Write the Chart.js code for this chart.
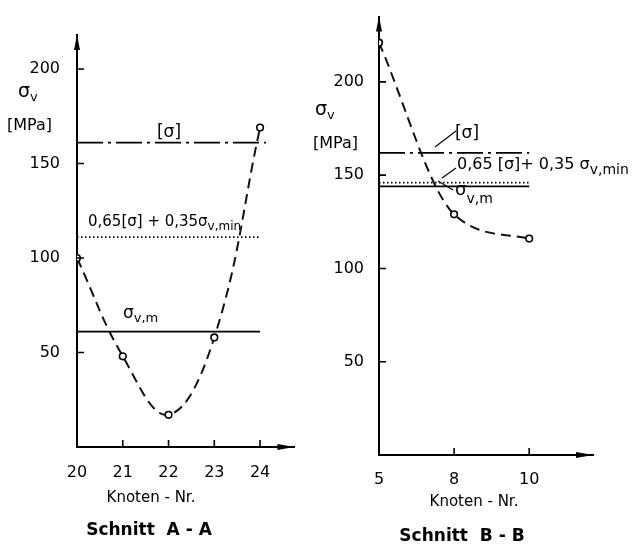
<!DOCTYPE html>
<html>
<head>
<meta charset="utf-8">
<script src="https://cdn.jsdelivr.net/npm/chart.js@4/dist/chart.umd.min.js"></script>
<style>
  body { margin: 0; background: #fff; }
  #wrap { position: relative; width: 639px; height: 549px; }
  canvas { position: absolute; top: 0; }
  #chartA { left: 0; }
  #chartB { left: 300px; }
</style>
</head>
<body>
<div id="wrap">
  <canvas id="chartA" width="300" height="549"></canvas>
  <canvas id="chartB" width="339" height="549"></canvas>
</div>
<script>
// Schnitt A - A
const nodesA = [20, 21, 22, 23, 24];
const sigmaA = [100, 48, 17, 58, 169];
const allowA = 161;   // [σ]
const combA = 111;    // 0,65[σ] + 0,35 σv,min
const meanA = 61;     // σv,m

// Schnitt B - B
const nodesB = ['5', '8', '10'];
const sigmaB = [221, 129, 116];
const allowB = 162;
const combB = 146;
const meanB = 144;

const yStep = 50;
const FONT = "'DejaVu Sans', sans-serif";

// draw text pieces: [text, size, dy]
function drawRich(ctx, x, y, parts, bold) {
  parts.forEach(p => {
    ctx.font = (bold ? 'bold ' : '') + p[1] + 'px ' + FONT;
    ctx.fillText(p[0], x, y + (p[2] || 0));
    x += ctx.measureText(p[0]).width;
  });
}

// axes arrows, inside ticks, labels
const sketchPlugin = {
  id: 'sketch',
  afterDraw(chart, args, o) {
    const ctx = chart.ctx;
    const a = chart.chartArea;
    const xs = chart.scales.x, ys = chart.scales.y;
    ctx.save();
    ctx.fillStyle = '#000';
    ctx.strokeStyle = '#000';
    ctx.lineWidth = 1.6;
    // arrows
    ctx.beginPath();
    ctx.moveTo(a.left, a.top);
    ctx.lineTo(a.left - 3, a.top + 15);
    ctx.lineTo(a.left + 3, a.top + 15);
    ctx.closePath();
    ctx.fill();
    ctx.beginPath();
    ctx.moveTo(a.right, a.bottom);
    ctx.lineTo(a.right - 17, a.bottom - 3);
    ctx.lineTo(a.right - 17, a.bottom + 3);
    ctx.closePath();
    ctx.fill();
    // inside ticks
    ctx.beginPath();
    ys.ticks.forEach(t => {
      if (t.value === 0) return;
      const py = ys.getPixelForValue(t.value);
      ctx.moveTo(a.left, py);
      ctx.lineTo(a.left + 7, py);
    });
    xs.ticks.forEach((t, i) => {
      if (i === 0) return;
      const px = xs.getPixelForValue(t.value);
      ctx.moveTo(px, a.bottom);
      ctx.lineTo(px, a.bottom - 7);
    });
    ctx.stroke();
    // leader lines
    ctx.lineWidth = 1.1;
    (o.leaders || []).forEach(l => {
      ctx.beginPath();
      ctx.moveTo(l[0], l[1]);
      ctx.lineTo(l[2], l[3]);
      ctx.stroke();
    });
    // texts
    ctx.textBaseline = 'middle';
    ctx.textAlign = 'left';
    (o.texts || []).forEach(t => drawRich(ctx, t.x, t.y, t.parts, t.bold));
    ctx.textAlign = 'center';
    (o.centered || []).forEach(t => {
      ctx.font = (t.bold ? 'bold ' : '') + t.size + 'px ' + FONT;
      ctx.fillText(t.text, t.x, t.y, t.w);
    });
    ctx.restore();
  }
};

function hLine(y, x0, x1, dash) {
  return {
    data: [{ x: x0, y: y }, { x: x1, y: y }],
    borderColor: '#000',
    borderWidth: 1.7,
    borderDash: dash,
    pointRadius: 0,
    tension: 0
  };
}

function curve(points, mode) {
  return {
    data: points,
    borderColor: '#111',
    borderWidth: 2,
    borderDash: [10, 6],
    tension: 0.4,
    cubicInterpolationMode: mode,
    pointRadius: 3.3,
    pointBackgroundColor: '#fff',
    pointBorderColor: '#000',
    pointBorderWidth: 1.6
  };
}

function makeChart(id, cfg) {
  return new Chart(document.getElementById(id), {
    type: 'line',
    data: { datasets: cfg.datasets },
    options: {
      responsive: false,
      animation: false,
      devicePixelRatio: 1,
      layout: { padding: cfg.padding },
      plugins: { legend: { display: false }, tooltip: { enabled: false }, sketch: cfg.sketch },
      scales: {
        x: {
          type: 'linear',
          min: cfg.xMin, max: cfg.xMax,
          afterFit: s => { s.height = 30; },
          grid: { display: false },
          border: { display: true, color: '#000', width: 2 },
          ticks: {
            stepSize: 1, includeBounds: false, padding: cfg.xPad,
            color: '#000', font: { family: FONT, size: 16 },
            maxRotation: 0, autoSkip: false,
            callback: cfg.xLabel
          }
        },
        y: {
          min: 0, max: cfg.yMax,
          afterFit: s => { s.width = cfg.yWidth; },
          grid: { display: false },
          border: { display: true, color: '#000', width: 2 },
          ticks: {
            stepSize: yStep, includeBounds: false, padding: cfg.yPad,
            color: '#000', font: { family: FONT, size: 16 },
            callback: v => (v === 0 ? '' : v)
          }
        }
      }
    },
    plugins: [sketchPlugin]
  });
}

makeChart('chartA', {
  padding: { left: 0, top: 35, right: 2, bottom: 72 },
  yWidth: 77, yMax: 218, yPad: 9, xPad: 8,
  xMin: 20, xMax: 24.75,
  xLabel: v => v,
  datasets: [
    hLine(allowA, 20, 24.13, [26, 5, 3, 5]),
    hLine(combA, 20, 24, [1.5, 2.5]),
    hLine(meanA, 20, 24, []),
    curve(nodesA.map((n, i) => ({ x: n, y: sigmaA[i] })), 'default')
  ],
  sketch: {
    texts: [
      { x: 18, y: 92, parts: [['σ', 19], ['v', 13, 6]] },
      { x: 7, y: 126, parts: [['[MPa]', 16]] },
      { x: 88, y: 222, parts: [['0,65[σ] + 0,35σ', 15], ['v,min', 12, 5]] },
      { x: 123, y: 314, parts: [['σ', 17], ['v,m', 13, 5]] }
    ],
    centered: [
      { text: '[σ]', x: 169, y: 133, size: 17 },
      { text: 'Knoten - Nr.', x: 151, y: 498, size: 15, w: 108 },
      { text: 'Schnitt  A - A', x: 149, y: 531, size: 17, bold: true, w: 136 }
    ]
  }
});

makeChart('chartB', {
  padding: { left: 0, top: 10, right: 46, bottom: 64 },
  yWidth: 79, yMax: 235, yPad: 7, xPad: 7,
  xMin: 0, xMax: 2.85,
  xLabel: v => nodesB[v] ?? '',
  datasets: [
    hLine(allowB, 0, 2, [26, 5, 3, 5]),
    hLine(combB, 0, 2, [1.5, 2.5]),
    hLine(meanB, 0, 2, []),
    curve(nodesB.map((n, i) => ({ x: i, y: sigmaB[i] })), 'monotone')
  ],
  sketch: {
    leaders: [[135, 147, 156, 131], [142, 178, 156, 168], [138, 181, 153, 190]],
    texts: [
      { x: 15, y: 110, parts: [['σ', 19], ['v', 13, 6]] },
      { x: 13, y: 144, parts: [['[MPa]', 16]] },
      { x: 157, y: 165, parts: [['0,65 [σ]+ 0,35 σ', 16], ['v,min', 14, 5]] },
      { x: 155, y: 190, parts: [['σ', 18], ['v,m', 14, 9]] }
    ],
    centered: [
      { text: '[σ]', x: 167, y: 134, size: 17 },
      { text: 'Knoten - Nr.', x: 174, y: 502, size: 15, w: 115 },
      { text: 'Schnitt  B - B', x: 162, y: 537, size: 17, bold: true, w: 143 }
    ]
  }
});
</script>
</body>
</html>
